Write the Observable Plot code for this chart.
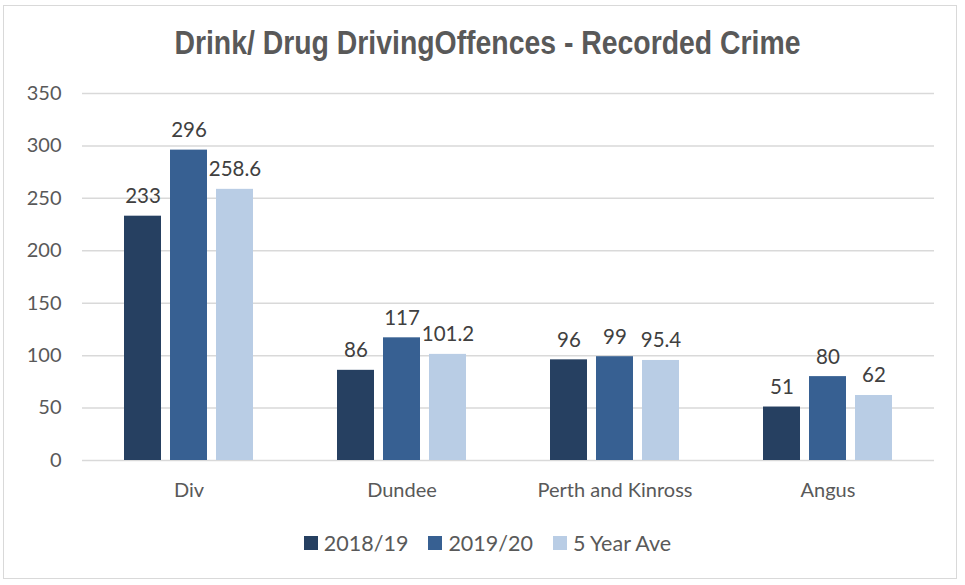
<!DOCTYPE html>
<html>
<head>
<meta charset="utf-8">
<script src="https://cdn.jsdelivr.net/npm/d3@7"></script>
<script src="https://cdn.jsdelivr.net/npm/@observablehq/plot@0.6"></script>
<style>
  html, body { margin: 0; padding: 0; background: #fff; }
  #frame { position: relative; width: 965px; height: 585px; overflow: hidden; font-family: Lato, "Open Sans", sans-serif; }
  #border { position: absolute; left: 3px; top: 5px; width: 954px; height: 574px; border: 1.5px solid #d9d9d9; box-sizing: border-box; }
  #title { position: absolute; left: 0; width: 975px; top: 24px; text-align: center; font-family: "Liberation Sans Narrow", "Arial Narrow", "Liberation Sans", sans-serif; font-weight: bold; font-size: 33px; color: #595959; transform: scaleX(0.86); transform-origin: 487px 0; }
  #chart { position: absolute; left: 0; top: 70px; }
  #legend { position: absolute; left: 0; width: 965px; top: 530px; display: flex; justify-content: center; font-size: 21.5px; color: #595959; padding-left: 10px; box-sizing: border-box; }
  .item { display: flex; align-items: center; margin: 0 10px; }
  .sw { width: 14px; height: 14px; margin-right: 6px; }
</style>
</head>
<body>
<div id="frame">
  <div id="border"></div>
  <div id="title">Drink/ Drug DrivingOffences - Recorded Crime</div>
  <div id="chart"></div>
  <div id="legend"></div>
</div>
<script>
const categories = ["Div", "Dundee", "Perth and Kinross", "Angus"];
const series = ["2018/19", "2019/20", "5 Year Ave"];
const values201819 = [233, 86, 96, 51];
const values201920 = [296, 117, 99, 80];
const valuesAve = [258.6, 101.2, 95.4, 62];
const colors = ["#264061", "#376092", "#b9cde5"];
const yTicks = [0, 50, 100, 150, 200, 250, 300, 350];

const seriesValues = [values201819, values201920, valuesAve];
const data = categories.flatMap((c, i) =>
  series.map((s, j) => ({category: c, series: s, value: seriesValues[j][i]}))
);

const font = "Lato, 'Open Sans', sans-serif";

const chart = Plot.plot({
  width: 965,
  height: 450,
  marginTop: 23,
  marginBottom: 60,
  marginLeft: 80,
  marginRight: 30,
  style: {fontFamily: font, fontSize: "20px", color: "#595959", background: "transparent"},
  fx: {domain: categories, padding: 0, label: null},
  x: {domain: series, paddingInner: 0.2, paddingOuter: 0.87, axis: null},
  y: {domain: [0, 350], label: null},
  color: {domain: series, range: colors},
  marks: [
    Plot.gridY(yTicks, {stroke: "#d9d9d9", strokeOpacity: 1, strokeWidth: 1.5}),
    Plot.axisY({ticks: yTicks, tickSize: 0, tickPadding: 21, label: null, fill: "#595959", fontSize: 20}),
    Plot.axisFx({anchor: "bottom", tickSize: 0, tickPadding: 22, label: null, fill: "#595959", fontSize: 20}),
    Plot.barY(data, {fx: "category", x: "series", y: "value", fill: "series"}),
    Plot.text(data, {fx: "category", x: "series", y: "value", text: d => String(d.value), dy: -13, lineAnchor: "bottom", fill: "#404040", fontSize: 20.5})
  ]
});
document.getElementById("chart").appendChild(chart);

const legend = document.getElementById("legend");
series.forEach((s, j) => {
  const item = document.createElement("div");
  item.className = "item";
  const sw = document.createElement("div");
  sw.className = "sw";
  sw.style.background = colors[j];
  const label = document.createElement("span");
  label.textContent = s;
  item.appendChild(sw);
  item.appendChild(label);
  legend.appendChild(item);
});
</script>
</body>
</html>
